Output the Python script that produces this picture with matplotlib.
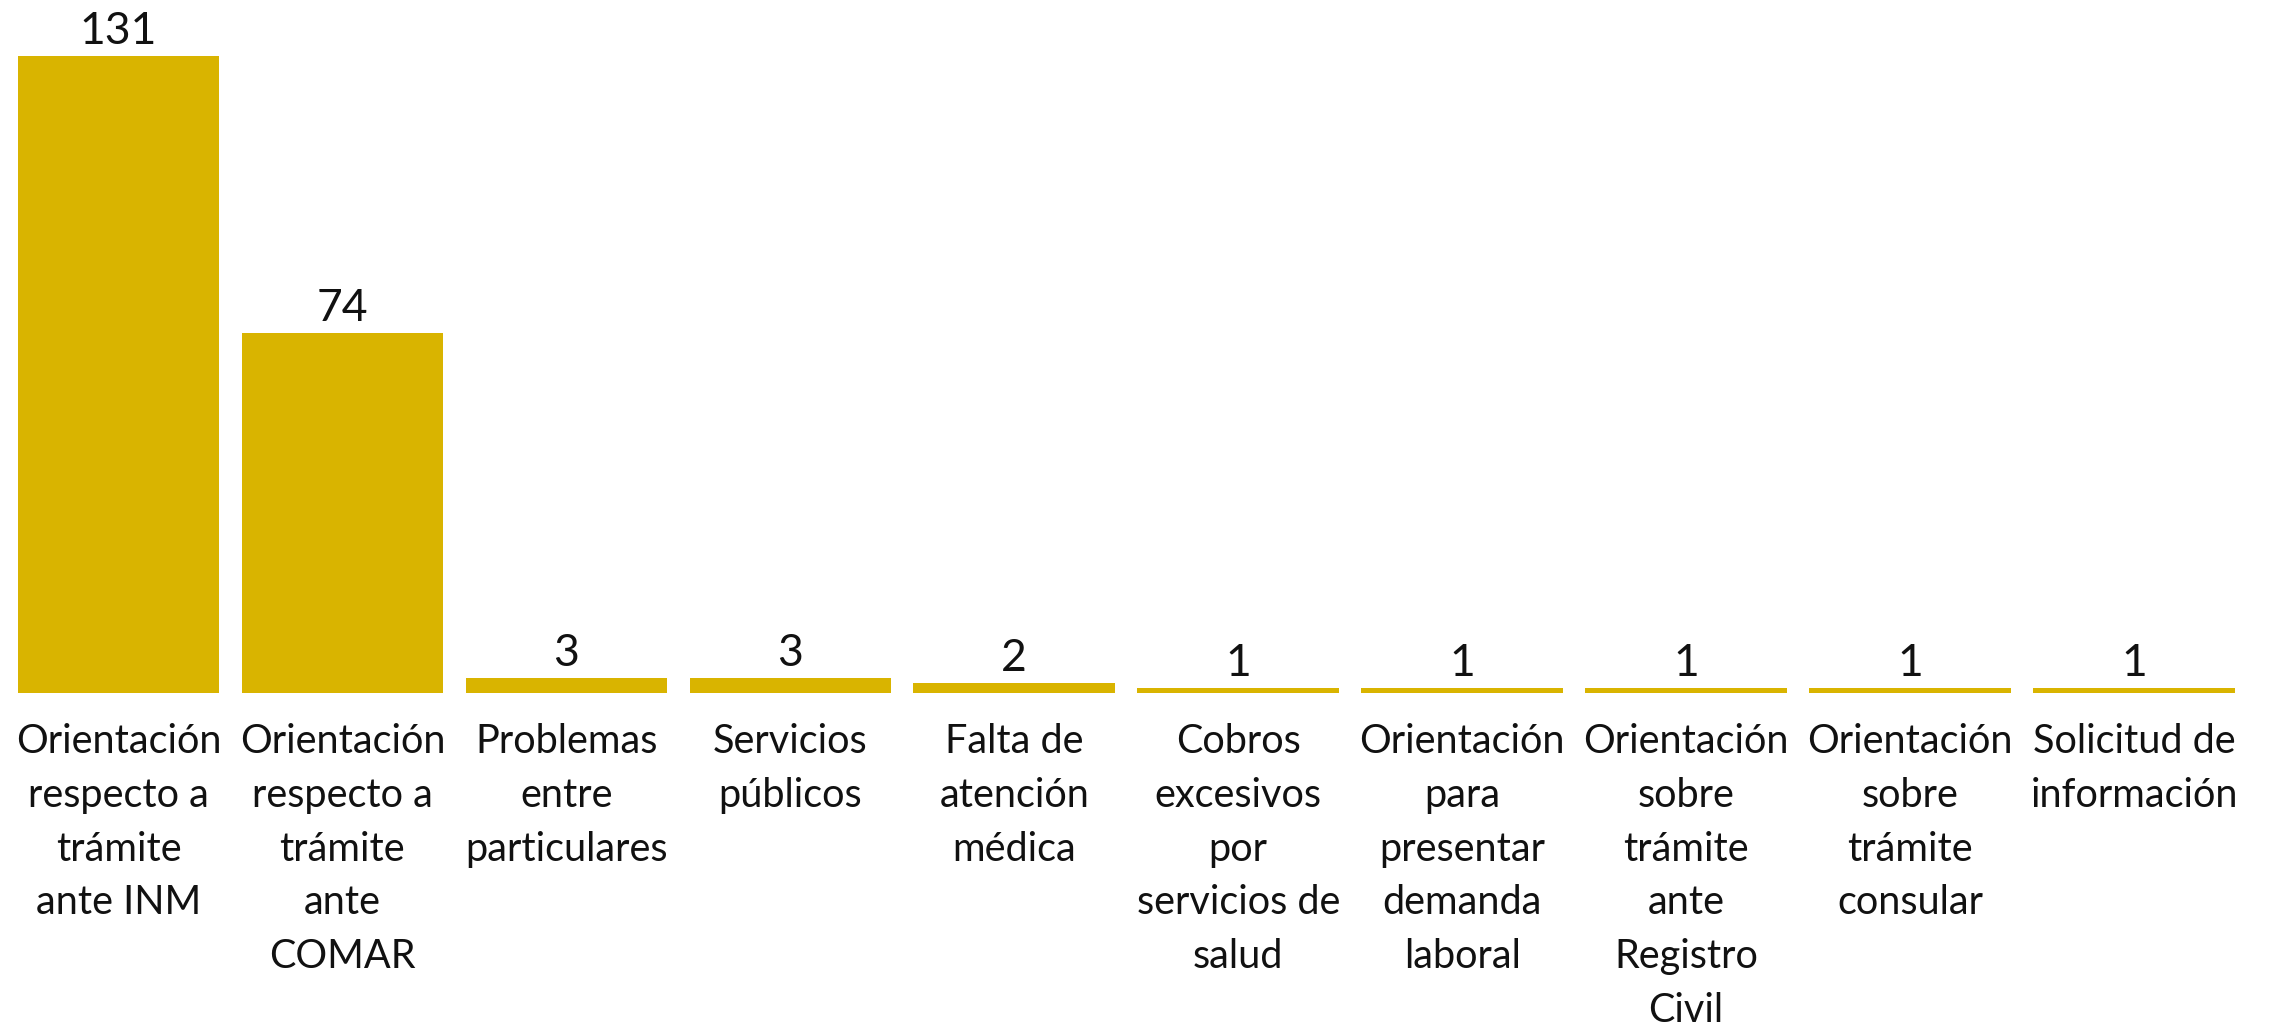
import matplotlib
matplotlib.use("Agg")
import matplotlib.pyplot as plt

categories = [
    "Orientación\nrespecto a\ntrámite\nante INM",
    "Orientación\nrespecto a\ntrámite\nante\nCOMAR",
    "Problemas\nentre\nparticulares",
    "Servicios\npúblicos",
    "Falta de\natención\nmédica",
    "Cobros\nexcesivos\npor\nservicios de\nsalud",
    "Orientación\npara\npresentar\ndemanda\nlaboral",
    "Orientación\nsobre\ntrámite\nante\nRegistro\nCivil",
    "Orientación\nsobre\ntrámite\nconsular",
    "Solicitud de\ninformación",
]
values = [131, 74, 3, 3, 2, 1, 1, 1, 1, 1]

BAR_COLOR = "#D9B400"
FONT = ["Lato", "DejaVu Sans"]

W, H = 2269, 1027
DPI = 100
fig = plt.figure(figsize=(W / DPI, H / DPI), dpi=DPI)
fig.patch.set_facecolor("white")

base_y = 693
left_px, right_px = 6.5, 2246
ax = fig.add_axes([left_px / W, 1 - base_y / H, (right_px - left_px) / W, base_y / H])

x = list(range(len(values)))
ax.bar(x, values, width=0.9, color=BAR_COLOR, edgecolor="none")
ax.set_xlim(-0.5, len(values) - 0.5)
ax.set_ylim(0, base_y / 4.865)

for s in ax.spines.values():
    s.set_visible(False)
ax.set_xticks([])
ax.set_yticks([])

for xi, v in zip(x, values):
    ax.annotate(str(v), xy=(xi, v), xytext=(0, 4 * 0.72), textcoords="offset points",
                ha="center", va="bottom", fontsize=32, family=FONT, color="#111111")

for xi, lab in zip(x, categories):
    ax.annotate(lab, xy=(xi, 0), xytext=(0, -30 * 0.72), textcoords="offset points",
                ha="center", va="top", fontsize=28.5, family=FONT, color="#111111",
                linespacing=1.56, annotation_clip=False)

fig.savefig("out.png", dpi=DPI, facecolor="white")
